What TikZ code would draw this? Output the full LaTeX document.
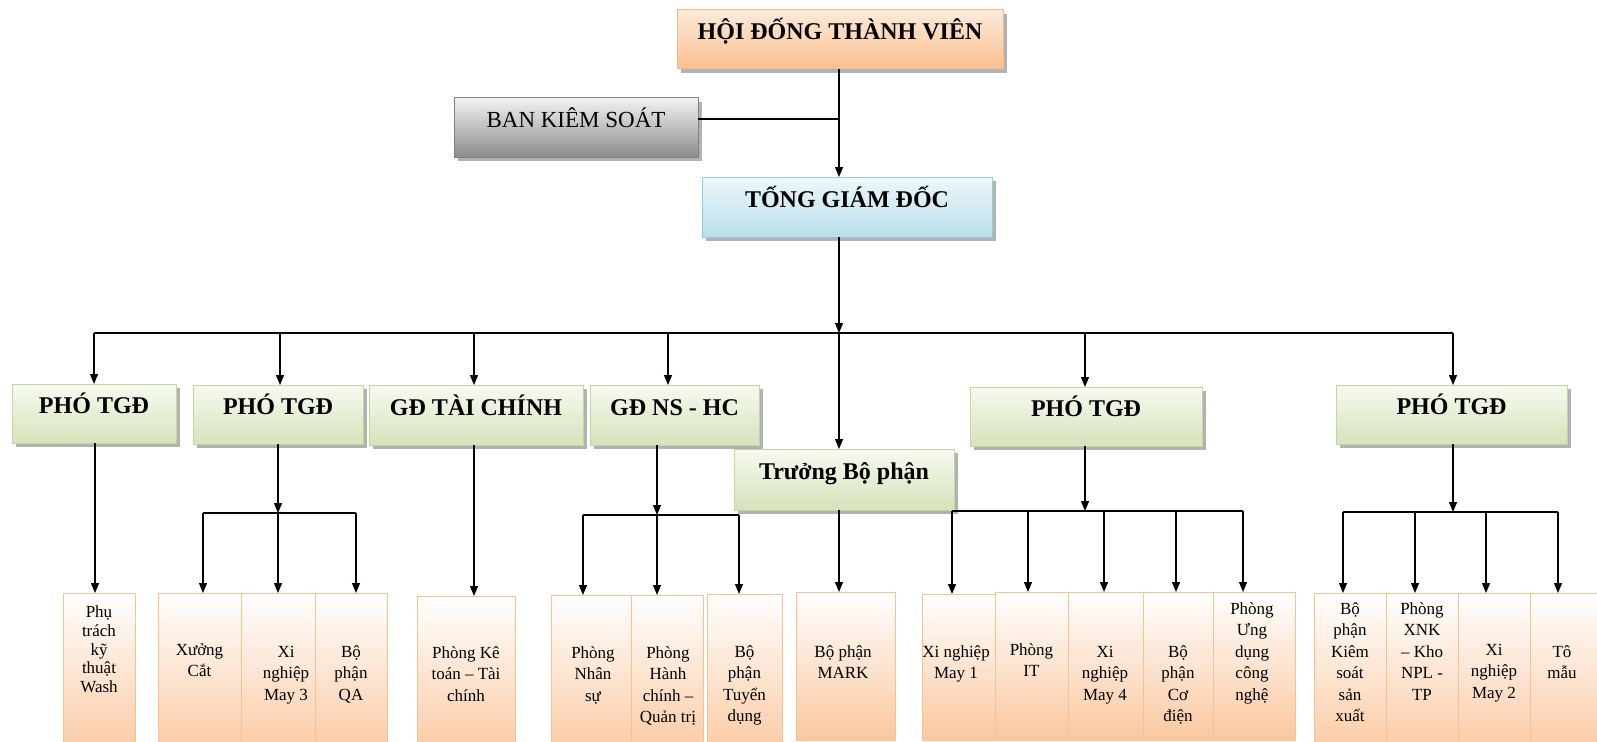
\documentclass[tikz,border=0pt]{standalone}
\usepackage{fontspec}
\setmainfont{Liberation Serif}
\usetikzlibrary{arrows.meta,shadows}
\definecolor{orT}{HTML}{FDEADA}
\definecolor{orB}{HTML}{FAC08F}
\definecolor{orD}{HTML}{F8B888}
\definecolor{grT}{HTML}{F2F2F2}
\definecolor{grB}{HTML}{8C8C8C}
\definecolor{grD}{HTML}{7F7F7F}
\definecolor{blT}{HTML}{EEF8FB}
\definecolor{blB}{HTML}{B7DEE8}
\definecolor{blD}{HTML}{93CDDD}
\definecolor{gnT}{HTML}{F7FAF1}
\definecolor{gnB}{HTML}{D5E3BA}
\definecolor{gnD}{HTML}{C3D69B}
\definecolor{pcB}{HTML}{FAC8A0}
\definecolor{pcD}{HTML}{FAC090}
\tikzset{
  shad/.style={drop shadow={shadow xshift=4pt,shadow yshift=-4pt,opacity=0.55,fill=black!55}},
  boxbase/.style={inner sep=0pt,outer sep=0pt,line width=1pt,text height=8pt,text depth=8pt,
     font=\fontsize{24}{28}\selectfont\bfseries},
  orbox/.style={boxbase,shad,draw=orD,top color=orT,bottom color=orB},
  grbox/.style={boxbase,shad,draw=grD,top color=grT,bottom color=grB,font=\fontsize{23}{27}\selectfont},
  blbox/.style={boxbase,shad,draw=blD,top color=blT,bottom color=blB},
  gnbox/.style={boxbase,shad,draw=gnD,top color=gnT,bottom color=gnB},
  leaf/.style={inner sep=0pt,outer sep=0pt,line width=1pt,draw=pcD,top color=white,bottom color=pcB},
  lbl/.style={inner sep=0pt,outer sep=0pt,anchor=north,align=center,font=\fontsize{17}{21.4}\selectfont},
  arr/.style={-{Triangle[length=10pt,width=8pt]},line width=1.2pt},
  ln/.style={line width=1.2pt}
}
\newcommand\st{\rule{0pt}{16pt}}
\begin{document}
\begin{tikzpicture}[x=1pt,y=-1pt]
\useasboundingbox (0,0) rectangle (1597,741);
\clip (0,0) rectangle (1597,741);
% top level
\node[orbox,minimum width=326,minimum height=59] (hdtv) at (840,39.5) {HỘI ĐỐNG THÀNH VIÊN};
\node[grbox,minimum width=244,minimum height=59] (bks) at (576,127.5) {BAN KIÊM SOÁT};
\node[blbox,minimum width=290,minimum height=60] (tgd) at (847,207) {TỐNG GIÁM ĐỐC};
% level 2
\node[gnbox,minimum width=164,minimum height=59] (p1) at (94,413.5) {PHÓ TGĐ};
\node[gnbox,minimum width=170,minimum height=59] (p2) at (278,414.5) {PHÓ TGĐ};
\node[gnbox,minimum width=214,minimum height=60] (gdtc) at (476,415) {GĐ TÀI CHÍNH};
\node[gnbox,minimum width=169,minimum height=60] (nshc) at (674.5,415) {GĐ NS - HC};
\node[gnbox,minimum width=220,minimum height=61] (tbp) at (844,479.5) {Trưởng Bộ phận};
\node[gnbox,minimum width=232,minimum height=59] (p3) at (1086,416.5) {PHÓ TGĐ};
\node[gnbox,minimum width=231,minimum height=59] (p4) at (1451.5,414.5) {PHÓ TGĐ};
% leaves
\node[leaf,minimum width=72,minimum height=167] (w1) at (99,676.5) {};
\node[leaf,minimum width=83,minimum height=167] (x1) at (199.5,676.5) {};
\node[leaf,minimum width=74,minimum height=167] (x2) at (278,676.5) {};
\node[leaf,minimum width=72,minimum height=167] (x3) at (351,676.5) {};
\node[leaf,minimum width=98,minimum height=164] (k1) at (466,678) {};
\node[leaf,minimum width=80,minimum height=165] (n1) at (591,677.5) {};
\node[leaf,minimum width=72,minimum height=165] (n2) at (667,677.5) {};
\node[leaf,minimum width=75,minimum height=166] (n3) at (744.5,677) {};
\node[leaf,minimum width=99,minimum height=148] (m1) at (845.5,666) {};
\node[leaf,minimum width=73,minimum height=146] (y1) at (958.5,667) {};
\node[leaf,minimum width=73,minimum height=148] (y2) at (1031.5,666) {};
\node[leaf,minimum width=75,minimum height=148] (y3) at (1105.5,666) {};
\node[leaf,minimum width=70,minimum height=148] (y4) at (1178,666) {};
\node[leaf,minimum width=82,minimum height=148] (y5) at (1254,666) {};
\node[leaf,minimum width=72,minimum height=167] (z1) at (1350,676.5) {};
\node[leaf,minimum width=72,minimum height=167] (z2) at (1422,676.5) {};
\node[leaf,minimum width=72,minimum height=167] (z3) at (1494,676.5) {};
\node[leaf,minimum width=70,minimum height=167] (z4) at (1565,676.5) {};
% leaf labels
\node[lbl,font=\fontsize{17}{18.8}\selectfont] (w1t) at (99,601.5) {\st Phụ\\trách\\kỹ\\thuật\\Wash};
\node[lbl] (x1t) at (199.5,639.5) {\st Xưởng\\Cắt};
\node[lbl] (x2t) at (286,641.5) {\st Xi\\nghiệp\\May 3};
\node[lbl] (x3t) at (351,641.5) {\st Bộ\\phận\\QA};
\node[lbl] (k1t) at (466,642.5) {\st Phòng Kê\\toán – Tài\\chính};
\node[lbl] (n1t) at (593,642.5) {\st Phòng\\Nhân\\sự};
\node[lbl] (n2t) at (668,642.5) {\st Phòng\\Hành\\chính –\\Quản trị};
\node[lbl] (n3t) at (744.5,641.5) {\st Bộ\\phận\\Tuyển\\dụng};
\node[lbl] (m1t) at (843,641.5) {\st Bộ phận\\MARK};
\node[lbl] (y1t) at (956,641.5) {\st Xi nghiệp\\May 1};
\node[lbl] (y2t) at (1031.5,639.5) {\st Phòng\\IT};
\node[lbl] (y3t) at (1105,641.5) {\st Xi\\nghiệp\\May 4};
\node[lbl] (y4t) at (1178,641.5) {\st Bộ\\phận\\Cơ\\điện};
\node[lbl] (y5t) at (1252,598.5) {\st Phòng\\Ưng\\dụng\\công\\nghệ};
\node[lbl] (z1t) at (1350,598.5) {\st Bộ\\phận\\Kiêm\\soát\\sản\\xuất};
\node[lbl] (z2t) at (1422,598.5) {\st Phòng\\XNK\\– Kho\\NPL -\\TP};
\node[lbl] (z3t) at (1494,639.5) {\st Xi\\nghiệp\\May 2};
\node[lbl] (z4t) at (1562,641.5) {\st Tô\\mẫu};
% coordinates
\coordinate (trunk) at (839,0);
\coordinate (busL) at (94,333);
\coordinate (busR) at (1453,333);
\coordinate (c2) at (280,333);
\coordinate (c3) at (474,333);
\coordinate (c4) at (668,333);
\coordinate (c6) at (1085,333);
% top connectors
\draw[arr] (hdtv.south -| trunk) -- (tgd.north -| trunk);
\draw[ln] ([yshift=8.5pt]bks.east) -- ([yshift=8.5pt]bks.east -| trunk);
\draw[arr] (tgd.south -| trunk) -- (busL -| trunk);
\draw[ln] (busL) -- (busR);
\draw[arr] (busL) -- (busL |- p1.north);
\draw[arr] (c2) -- (c2 |- p2.north);
\draw[arr] (c3) -- (c3 |- gdtc.north);
\draw[arr] (c4) -- (c4 |- nshc.north);
\draw[arr] (busL -| trunk) -- (tbp.north -| trunk);
\draw[arr] (c6) -- (c6 |- p3.north);
\draw[arr] (busR) -- (busR |- p4.north);
% group 1
\coordinate (a11) at (95,0);
\draw[arr] (p1.south -| a11) -- (w1.north -| a11);
% group 2
\coordinate (v2) at (278,513);
\coordinate (a21) at (203,513);
\coordinate (a23) at (356,513);
\draw[arr] (p2.south -| v2) -- (v2);
\draw[ln] (a21) -- (a23);
\draw[arr] (a21) -- (a21 |- x1.north);
\draw[arr] (v2) -- (v2 |- x2.north);
\draw[arr] (a23) -- (a23 |- x3.north);
% group 3
\coordinate (a31) at (474,0);
\draw[arr] (gdtc.south -| a31) -- (k1.north -| a31);
% group 4
\coordinate (v4) at (657,515);
\coordinate (a41) at (583,515);
\coordinate (a43) at (739,515);
\draw[arr] (nshc.south -| v4) -- (v4);
\draw[ln] (a41) -- (a43);
\draw[arr] (a41) -- (a41 |- n1.north);
\draw[arr] (v4) -- (v4 |- n2.north);
\draw[arr] (a43) -- (a43 |- n3.north);
% group 5
\draw[arr] (tbp.south -| trunk) -- (m1.north -| trunk);
% group 6
\coordinate (v6) at (1085,511);
\coordinate (a61) at (952,511);
\coordinate (a62) at (1028,511);
\coordinate (a63) at (1104,511);
\coordinate (a64) at (1176,511);
\coordinate (a65) at (1243,511);
\draw[arr] (p3.south -| v6) -- (v6);
\draw[ln] (a61) -- (a65);
\draw[arr] (a61) -- (a61 |- y1.north);
\draw[arr] (a62) -- (a62 |- y2.north);
\draw[arr] (a63) -- (a63 |- y3.north);
\draw[arr] (a64) -- (a64 |- y4.north);
\draw[arr] (a65) -- (a65 |- y5.north);
% group 7
\coordinate (v7) at (1453,512);
\coordinate (a71) at (1343,512);
\coordinate (a72) at (1415,512);
\coordinate (a73) at (1486,512);
\coordinate (a74) at (1558,512);
\draw[arr] (p4.south -| v7) -- (v7);
\draw[ln] (a71) -- (a74);
\draw[arr] (a71) -- (a71 |- z1.north);
\draw[arr] (a72) -- (a72 |- z2.north);
\draw[arr] (a73) -- (a73 |- z3.north);
\draw[arr] (a74) -- (a74 |- z4.north);
\end{tikzpicture}
\end{document}
